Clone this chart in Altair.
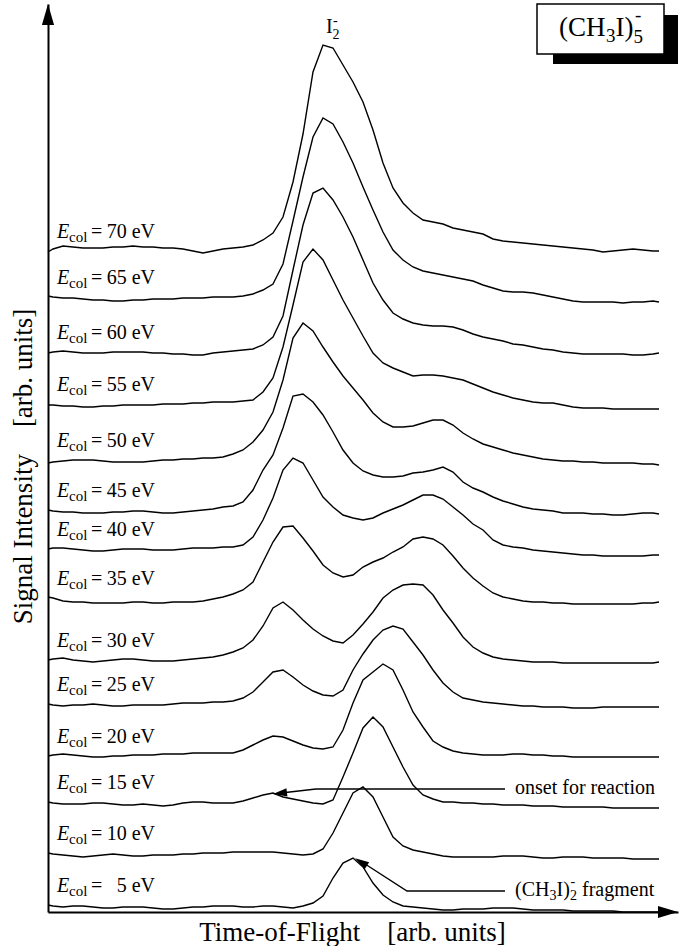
import altair as alt
import pandas as pd

# ---------------- data ----------------
# time-of-flight sampling grid (arb. units)
TOF = [0, 5, 15, 25, 35, 45, 55, 65, 75, 85,
       95, 105, 115, 125, 135, 145, 155, 165, 175, 185,
       195, 205, 215, 225, 235, 245, 255, 265, 275, 285,
       295, 305, 315, 325, 335, 345, 355, 365, 375, 385,
       395, 405, 415, 425, 435, 445, 455, 465, 475, 485,
       495, 505, 515, 525, 535, 545, 555, 565, 575, 585,
       595, 605, 611]

ENERGIES = [70, 65, 60, 55, 50, 45, 40, 35, 30, 25, 20, 15, 10, 5]
# vertical offset of each trace in the waterfall
OFFSETS = [661, 615, 560, 508, 452, 402, 363, 314, 252, 208, 156, 110, 59, 7]

SIG_70 = [-1, 2, 5, 4, 3, 3, 3, 4, 4, 5,
          4, 4, 3, 3, 2, 0, -2, 0, 2, 3,
          4, 6, 11, 18, 34, 69, 117, 179, 206, 203,
          186, 169, 149, 121, 88, 63, 48, 38, 31, 29,
          27, 23, 21, 19, 17, 12, 10, 9, 8, 7,
          6, 5, 4, 3, 2, 1, -1, 0, 1, 2,
          1, 0, 0]
SIG_65 = [1, 0, -1, -1, -2, -3, -3, -4, -4, -3,
          -3, -2, -2, -2, -1, -1, -1, 0, 0, 0,
          1, 3, 7, 13, 33, 76, 120, 160, 179, 173,
          155, 134, 110, 87, 65, 47, 37, 30, 26, 24,
          22, 20, 18, 16, 12, 9, 6, 5, 5, 4,
          2, 0, -2, -4, -5, -5, -5, -5, -6, -5,
          -5, -4, -5]
SIG_60 = [-1, 0, 1, 0, -1, -1, -1, 0, 0, 0,
          0, -1, -1, -2, -2, -3, -3, -1, 0, 1,
          2, 3, 7, 15, 36, 82, 127, 159, 164, 152,
          135, 115, 92, 69, 52, 39, 33, 29, 27, 26,
          26, 25, 22, 18, 15, 13, 11, 8, 7, 5,
          3, 2, 0, -1, -2, -2, -2, -2, -2, -3,
          -3, -2, -1]
SIG_55 = [-1, -1, -2, -2, -3, -3, -2, -2, -1, -1,
          -1, -1, 0, 0, 0, 1, 1, 2, 2, 2,
          3, 4, 12, 26, 57, 99, 142, 155, 144, 124,
          104, 86, 68, 51, 41, 36, 32, 28, 29, 29,
          28, 26, 24, 20, 16, 12, 9, 6, 4, 2,
          1, 1, -1, -3, -4, -4, -4, -5, -5, -5,
          -5, -5, -5]
SIG_50 = [-3, -2, -1, 0, 0, 0, -1, -2, -2, -2,
          -2, -1, 0, 0, 1, 1, 2, 2, 3, 6,
          10, 18, 30, 48, 80, 122, 137, 129, 113, 98,
          84, 72, 60, 47, 38, 33, 33, 34, 37, 40,
          40, 35, 27, 21, 16, 13, 10, 7, 5, 3,
          1, 0, -1, -1, -2, -2, -3, -3, -3, -3,
          -4, -4, -5]
SIG_45 = [0, -1, -2, -2, -3, -3, -3, -2, -2, -1,
          -1, -2, -3, -3, -2, -1, 0, 1, 3, 4,
          8, 20, 40, 55, 82, 114, 116, 108, 95, 78,
          60, 47, 39, 35, 33, 33, 34, 37, 38, 40,
          43, 38, 28, 22, 18, 13, 9, 6, 3, 1,
          0, -1, -3, -3, -3, -4, -4, -5, -5, -4,
          -3, -3, -4]
SIG_40 = [0, 1, 1, 0, -1, -2, -2, -1, 0, 0,
          0, -1, -1, -1, 0, 1, 1, 1, 2, 2,
          4, 12, 29, 51, 79, 91, 86, 69, 52, 42,
          34, 31, 29, 31, 36, 40, 44, 49, 54, 54,
          50, 42, 34, 25, 19, 9, 4, 2, 1, -1,
          -2, -3, -4, -5, -6, -6, -7, -7, -7, -7,
          -7, -6, -6]
SIG_35 = [1, 0, -3, -4, -4, -5, -5, -5, -5, -4,
          -4, -5, -5, -4, -4, -4, -3, -1, 1, 4,
          8, 16, 36, 56, 71, 72, 60, 47, 33, 25,
          21, 23, 31, 36, 40, 46, 51, 59, 61, 59,
          53, 42, 30, 20, 12, 5, 1, -1, -3, -4,
          -4, -5, -5, -6, -6, -6, -6, -6, -6, -6,
          -5, -5, -4]
SIG_30 = [0, 1, 2, 0, -1, -2, -1, 0, 1, 1,
          0, -1, -1, -1, 0, 1, 2, 3, 5, 8,
          12, 20, 34, 52, 58, 50, 40, 31, 24, 19,
          17, 25, 36, 48, 62, 70, 75, 76, 75, 65,
          50, 37, 23, 13, 7, 3, 1, 0, -1, -2,
          -2, -2, -3, -3, -3, -3, -3, -3, -3, -3,
          -3, -3, -2]
SIG_25 = [0, -1, -2, -1, -1, 0, -1, -2, -2, -1,
          -1, -1, -1, 0, 1, 1, 1, 2, 2, 3,
          6, 12, 22, 32, 34, 27, 19, 13, 9, 8,
          14, 34, 50, 64, 74, 78, 75, 62, 49, 34,
          21, 12, 6, 4, 2, 1, 0, -1, -2, -2,
          -3, -3, -3, -4, -4, -4, -3, -3, -3, -3,
          -3, -3, -3]
SIG_20 = [0, 1, 2, 1, 0, -1, -1, 0, 0, 1,
          1, 1, 2, 2, 2, 3, 3, 3, 3, 3,
          6, 11, 16, 20, 19, 15, 11, 8, 7, 9,
          26, 53, 76, 84, 92, 86, 66, 44, 29, 15,
          9, 5, 3, 2, 1, 1, 1, 2, 2, 1,
          1, 0, 0, -1, -1, -1, -1, -1, -1, -1,
          -1, -1, -1]
SIG_15 = [0, -1, -2, -2, -2, -1, -1, -2, -3, -3,
          -2, -3, -4, -3, -1, 0, 0, -1, -1, -1,
          1, 4, 7, 9, 5, 3, 1, -1, -2, 2,
          25, 49, 74, 85, 75, 55, 35, 17, 7, 3,
          0, 0, -1, -1, -2, -2, -3, -3, -3, -4,
          -4, -4, -5, -5, -5, -5, -5, -6, -6, -6,
          -6, -6, -6]
SIG_10 = [0, -1, -2, -3, -4, -3, -2, -1, -2, -3,
          -3, -2, -2, -2, -1, -1, 0, 0, 0, 1,
          1, 1, 1, 1, 0, -1, -2, -1, 4, 20,
          40, 60, 66, 56, 36, 16, 7, 3, 1, -1,
          -3, -4, -4, -4, -4, -4, -3, -3, -3, -4,
          -5, -5, -4, -4, -4, -5, -5, -5, -5, -6,
          -6, -6, -6]
SIG_5 = [0, -1, -2, -1, -1, -2, -3, -3, -2, -2,
         -2, -3, -4, -4, -3, -2, -2, -1, -1, -1,
         -2, -2, -1, -1, -2, -3, -1, 2, 9, 27,
         42, 47, 38, 22, 10, 3, -1, -2, -3, -4,
         -5, -5, -4, -4, -4, -3, -3, -3, -4, -5,
         -5, -5, -5, -6, -6, -6, -6, -6, -7, -7,
         -7, -7, -7]

SIGNALS = [SIG_70, SIG_65, SIG_60, SIG_55, SIG_50, SIG_45, SIG_40,
           SIG_35, SIG_30, SIG_25, SIG_20, SIG_15, SIG_10, SIG_5]

# ---------------- tables ----------------
rows = []
for e, off, sig in zip(ENERGIES, OFFSETS, SIGNALS):
    for t, s in zip(TOF, sig):
        rows.append({"energy": e, "tof": t, "signal": s, "y": off + s})
traces = pd.DataFrame(rows)

labels = pd.DataFrame({"energy": ENERGIES, "offset": OFFSETS})
labels["value"] = [f"{e} eV" for e in ENERGIES]

SERIF = "Liberation Serif"
XS = alt.Scale(domain=[0, 630], nice=False, zero=False)
YS = alt.Scale(domain=[0, 908], nice=False, zero=False)

x_axis = alt.Axis(
    title="Time-of-Flight\u00a0\u00a0\u00a0\u00a0[arb. units]",
    domain=True, domainColor="black", domainWidth=2,
    ticks=False, labels=False, grid=False,
    titleFont=SERIF, titleFontSize=27, titleFontWeight="normal", titleColor="black",
    titleX=304, titleY=28, titleAlign="center", titleBaseline="alphabetic",
)
y_axis = alt.Axis(
    title="Signal Intensity\u00a0\u00a0\u00a0\u00a0[arb. units]",
    domain=True, domainColor="black", domainWidth=2,
    ticks=False, labels=False, grid=False,
    titleFont=SERIF, titleFontSize=27, titleFontWeight="normal", titleColor="black",
    titleAngle=270, titleX=-17, titleY=462, titleAlign="center", titleBaseline="alphabetic",
)


def X(field):
    return alt.X(field, type="quantitative", scale=XS, axis=x_axis)


def Y(field):
    return alt.Y(field, type="quantitative", scale=YS, axis=y_axis)


lines = alt.Chart(traces).mark_line(color="black", strokeWidth=1.4).encode(
    x=X("tof"), y=Y("y"), detail="energy:N", order="tof:Q"
)

base_lab = alt.Chart(labels)
lab_E = base_lab.transform_calculate(yb="datum.offset + 13").mark_text(
    text="E", font=SERIF, fontSize=20, fontStyle="italic", align="left",
    baseline="alphabetic", color="black"
).encode(x=alt.value(9), y=Y("yb"))
lab_col = base_lab.transform_calculate(yb="datum.offset + 9.5").mark_text(
    text="col", font=SERIF, fontSize=15, align="left", baseline="alphabetic", color="black"
).encode(x=alt.value(21), y=Y("yb"))
lab_eq = base_lab.transform_calculate(yb="datum.offset + 13").mark_text(
    text="=", font=SERIF, fontSize=20, align="left", baseline="alphabetic", color="black"
).encode(x=alt.value(43), y=Y("yb"))
lab_val = base_lab.transform_calculate(yb="datum.offset + 13").mark_text(
    font=SERIF, fontSize=20, align="right", baseline="alphabetic", color="black"
).encode(x=alt.value(107), y=Y("yb"), text="value:N")

# axis arrowheads (pixel positions in plot space)
one = pd.DataFrame({"k": [0]})
arrow_up = alt.Chart(one).mark_point(
    shape="M0,-1L0.58,1L-0.58,1Z", size=441, filled=True, color="black", opacity=1
).encode(x=alt.value(0), y=alt.value(10.5))
arrow_right = alt.Chart(one).mark_point(
    shape="M1,0L-1,0.6L-1,-0.6Z", size=400, filled=True, color="black", opacity=1
).encode(x=alt.value(620), y=alt.value(908))

# annotation arrows (page pixels converted to data units)
ann_lines = pd.DataFrame({
    "grp": ["onset", "onset", "onset", "frag", "frag", "frag"],
    "o": [0, 1, 2, 0, 1, 2],
    "px": [505, 316, 281, 505, 407, 362],
    "py": [789, 789, 793, 891, 891, 862],
})
ann_lines["ax"] = ann_lines["px"] - 48
ann_lines["ay"] = 912 - ann_lines["py"]
ann = alt.Chart(ann_lines).mark_line(color="black", strokeWidth=1.4).encode(
    x=X("ax"), y=Y("ay"), detail="grp:N", order="o:Q"
)
heads = pd.DataFrame({"px": [280, 361], "py": [793.2, 862], "angle": [173, 212]})
heads["ax"] = heads["px"] - 48
heads["ay"] = 912 - heads["py"]
ann_heads = alt.Chart(heads).mark_point(
    shape="M1,0L-1,0.6L-1,-0.6Z", size=196, filled=True, color="black", opacity=1
).encode(x=X("ax"), y=Y("ay"), angle=alt.Angle("angle:Q", scale=None))

# text annotations: (text, page x, page baseline y, size)
TEXTS = [
    ("I", 326, 33, 20), ("2", 332.5, 38.5, 14), ("-", 333, 25, 14),
    ("(CH", 559, 36, 27), ("3", 606, 42, 19), ("I)", 615.5, 36, 27),
    ("5", 633.5, 43, 19), ("-", 635, 21, 19),
    ("onset for reaction", 515, 794, 20),
    ("(CH", 515, 896, 20), ("3", 549.5, 900, 14), ("I)", 556.5, 896, 20),
    ("2", 570, 900, 14), ("-", 570.5, 886, 14), ("fragment", 582, 896, 20),
]
tx = pd.DataFrame(TEXTS, columns=["text", "px", "py", "size"])
tx["ax"] = tx["px"] - 48
tx["ay"] = 912 - tx["py"]
texts = alt.Chart(tx).mark_text(
    font=SERIF, align="left", baseline="alphabetic", color="black"
).encode(x=X("ax"), y=Y("ay"), text="text:N", size=alt.Size("size:Q", scale=None))

shadow = alt.Chart(one).mark_rect(color="black").encode(
    x=alt.value(505), x2=alt.value(630), y=alt.value(11), y2=alt.value(60)
)
box = alt.Chart(one).mark_rect(fill="white", stroke="black", strokeWidth=1.5).encode(
    x=alt.value(489), x2=alt.value(616), y=alt.value(0), y2=alt.value(50)
)

chart = alt.layer(
    lines, lab_E, lab_col, lab_eq, lab_val, arrow_up, arrow_right,
    ann, ann_heads, shadow, box, texts
).properties(
    width=630, height=908,
    autosize=alt.AutoSizeParams(type="none"),
    padding={"left": 48, "top": 4, "right": 12, "bottom": 34},
    background="white",
).configure_view(stroke=None)

chart.save("out.html", embed_options={"renderer": "svg", "actions": False})
